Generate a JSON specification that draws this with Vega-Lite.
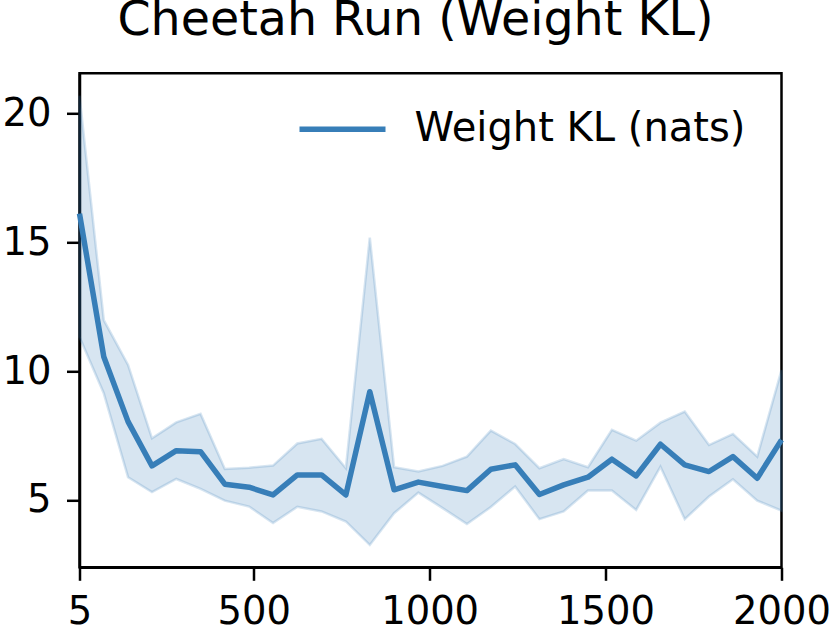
{
  "$schema": "https://vega.github.io/schema/vega-lite/v6.json",
  "width": 702,
  "height": 494,
  "autosize": {"type": "none"},
  "padding": {"left": 79.5, "top": 73.3, "right": 48.5, "bottom": 60.7},
  "background": "white",
  "title": {
    "text": "Cheetah Run (Weight KL)",
    "font": "DejaVu Sans",
    "fontSize": 47.5,
    "fontWeight": "normal",
    "color": "black",
    "anchor": "middle",
    "baseline": "alphabetic",
    "offset": -9,
    "dx": -15
  },
  "config": {
    "view": {"stroke": "black", "strokeWidth": 2.5},
    "axis": {
      "domainColor": "black",
      "domainWidth": 2.5,
      "tickColor": "black",
      "tickWidth": 2.5,
      "tickSize": 13,
      "labelFont": "DejaVu Sans",
      "labelFontSize": 38.5,
      "labelColor": "black",
      "labelPadding": 15.5,
      "grid": false,
      "title": null
    }
  },
  "data": {
    "values": [
      {"step": 5, "mean": 16.12, "hi": 20.7, "lo": 11.33, "series": "Weight KL (nats)"},
      {"step": 74, "mean": 10.56, "hi": 11.98, "lo": 9.14, "series": "Weight KL (nats)"},
      {"step": 143, "mean": 8.04, "hi": 10.24, "lo": 5.88, "series": "Weight KL (nats)"},
      {"step": 211, "mean": 6.32, "hi": 7.39, "lo": 5.30, "series": "Weight KL (nats)"},
      {"step": 280, "mean": 6.91, "hi": 8.01, "lo": 5.81, "series": "Weight KL (nats)"},
      {"step": 349, "mean": 6.87, "hi": 8.34, "lo": 5.43, "series": "Weight KL (nats)"},
      {"step": 418, "mean": 5.61, "hi": 6.20, "lo": 4.97, "series": "Weight KL (nats)"},
      {"step": 487, "mean": 5.49, "hi": 6.25, "lo": 4.74, "series": "Weight KL (nats)"},
      {"step": 555, "mean": 5.19, "hi": 6.33, "lo": 4.10, "series": "Weight KL (nats)"},
      {"step": 624, "mean": 5.97, "hi": 7.19, "lo": 4.73, "series": "Weight KL (nats)"},
      {"step": 693, "mean": 5.97, "hi": 7.37, "lo": 4.55, "series": "Weight KL (nats)"},
      {"step": 762, "mean": 5.19, "hi": 6.23, "lo": 4.16, "series": "Weight KL (nats)"},
      {"step": 830, "mean": 9.20, "hi": 15.19, "lo": 3.25, "series": "Weight KL (nats)"},
      {"step": 899, "mean": 5.39, "hi": 6.27, "lo": 4.48, "series": "Weight KL (nats)"},
      {"step": 968, "mean": 5.69, "hi": 6.10, "lo": 5.28, "series": "Weight KL (nats)"},
      {"step": 1037, "mean": 5.52, "hi": 6.32, "lo": 4.68, "series": "Weight KL (nats)"},
      {"step": 1106, "mean": 5.36, "hi": 6.68, "lo": 4.06, "series": "Weight KL (nats)"},
      {"step": 1174, "mean": 6.19, "hi": 7.69, "lo": 4.72, "series": "Weight KL (nats)"},
      {"step": 1243, "mean": 6.36, "hi": 7.17, "lo": 5.52, "series": "Weight KL (nats)"},
      {"step": 1312, "mean": 5.21, "hi": 6.23, "lo": 4.25, "series": "Weight KL (nats)"},
      {"step": 1381, "mean": 5.58, "hi": 6.58, "lo": 4.55, "series": "Weight KL (nats)"},
      {"step": 1450, "mean": 5.88, "hi": 6.27, "lo": 5.36, "series": "Weight KL (nats)"},
      {"step": 1518, "mean": 6.58, "hi": 7.72, "lo": 5.36, "series": "Weight KL (nats)"},
      {"step": 1587, "mean": 5.93, "hi": 7.30, "lo": 4.61, "series": "Weight KL (nats)"},
      {"step": 1656, "mean": 7.16, "hi": 8.00, "lo": 6.29, "series": "Weight KL (nats)"},
      {"step": 1725, "mean": 6.36, "hi": 8.43, "lo": 4.25, "series": "Weight KL (nats)"},
      {"step": 1794, "mean": 6.10, "hi": 7.13, "lo": 5.13, "series": "Weight KL (nats)"},
      {"step": 1862, "mean": 6.68, "hi": 7.56, "lo": 5.80, "series": "Weight KL (nats)"},
      {"step": 1931, "mean": 5.84, "hi": 6.68, "lo": 4.97, "series": "Weight KL (nats)"},
      {"step": 2000, "mean": 7.33, "hi": 10.04, "lo": 4.58, "series": "Weight KL (nats)"}
    ]
  },
  "encoding": {
    "x": {
      "field": "step",
      "type": "quantitative",
      "scale": {"domain": [5, 2000], "nice": false, "zero": false},
      "axis": {"values": [5, 500, 1000, 1500, 2000], "labelFlush": false, "format": "d", "labelPadding": 13}
    }
  },
  "layer": [
    {
      "mark": {
        "type": "area",
        "color": "#377eb8",
        "fillOpacity": 0.2,
        "stroke": "#377eb8",
        "strokeOpacity": 0.2,
        "strokeWidth": 2.5
      },
      "encoding": {
        "y": {
          "field": "lo",
          "type": "quantitative",
          "scale": {"domain": [2.38, 21.57], "nice": false, "zero": false},
          "axis": {"values": [5, 10, 15, 20], "labelFlush": false}
        },
        "y2": {"field": "hi"}
      }
    },
    {
      "mark": {"type": "line", "strokeWidth": 5.5, "strokeJoin": "round", "strokeCap": "butt"},
      "encoding": {
        "y": {"field": "mean", "type": "quantitative"},
        "color": {
          "field": "series",
          "type": "nominal",
          "scale": {"domain": ["Weight KL (nats)"], "range": ["#377eb8"]},
          "legend": {
            "orient": "none",
            "legendX": 217,
            "legendY": 10,
            "title": null,
            "padding": 0,
            "symbolType": "stroke",
            "symbolSize": 7396,
            "symbolStrokeWidth": 5.5,
            "labelFont": "DejaVu Sans",
            "labelFontSize": 40,
            "labelColor": "black",
            "labelOffset": 26,
            "labelLimit": 600
          }
        }
      }
    }
  ]
}
